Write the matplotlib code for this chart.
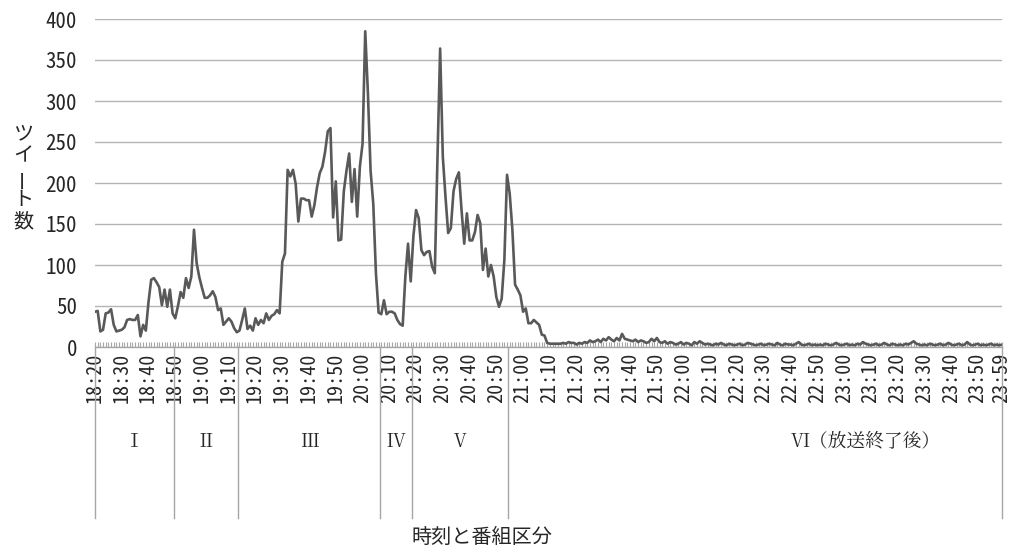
import numpy as np
import matplotlib
matplotlib.use('Agg')
import matplotlib.pyplot as plt
from matplotlib import font_manager
from matplotlib.transforms import blended_transform_factory

plt.rcParams['font.family'] = ['Noto Sans CJK JP', 'DejaVu Sans']

# tweets per minute, 18:20 .. 23:59
tweets_1820 = [43, 44, 19, 21, 41, 42, 46, 27, 19, 20,
               21, 24, 33, 34, 33, 33, 39, 13, 27, 20,
               55, 82, 84, 79, 73, 51, 70, 49, 70, 41]
tweets_1850 = [35, 50, 67, 60, 84, 72, 86, 143, 102, 85,
               72, 60, 60, 63, 68, 61, 45, 47, 27, 31,
               35, 31, 23, 18]
tweets_1914 = [20, 33, 47, 22, 26, 20, 35, 27, 33, 29,
               41, 33, 38, 40, 45, 41, 104, 114, 216, 208,
               216, 199, 153, 181, 181, 179, 179, 159, 173, 195,
               212, 220, 238, 263, 267, 158, 202, 130, 131, 190,
               215, 236, 177, 217, 159, 220, 248, 385, 310, 215,
               175, 90, 42]
tweets_2007 = [40, 57, 40, 43, 43, 41, 33, 28, 26, 86,
               126, 80]
tweets_2019 = [135, 167, 157, 118, 112, 116, 117, 98, 90, 230,
               364, 232, 183, 139, 145, 190, 205, 213, 167, 126,
               163, 130, 130, 140, 161, 151, 94, 120, 86, 100,
               86, 61, 49, 59, 106, 210]
tweets_2055 = [187, 143, 76, 70, 63, 43, 47, 29, 29, 33,
               30, 27, 15, 14, 5, 4, 4, 4, 4, 4,
               5, 4, 6, 5, 5,
               3, 5, 4, 6, 5, 8, 6, 7, 9, 6,
               10, 8, 12, 9, 7, 11, 8, 16, 10, 9,
               8, 7, 9, 6, 8, 7, 5, 6, 10, 7,
               11, 6, 5, 7, 4, 6, 5, 3, 4, 6,
               3, 5, 4, 2, 6, 4, 7, 5, 3, 4,
               3, 2, 4, 3, 5, 3, 2, 4, 3, 2,
               3, 4, 2, 3, 5, 4, 3, 2, 3, 4,
               2, 3, 4, 3, 2, 5, 3, 2, 4, 3,
               3, 2, 4, 6, 3, 2, 3, 4, 2, 3,
               2, 3, 2, 4, 3, 2, 3, 5, 3, 2,
               3, 4, 2, 3, 2, 4, 3, 6, 4, 3,
               2, 3, 4, 2, 3, 5, 3, 2, 4, 3,
               2, 3, 2, 4, 3, 5, 7, 4, 3, 2,
               3, 2, 4, 3, 2, 3, 4, 2, 3, 5,
               3, 2, 3, 4, 2, 3, 6, 3, 2, 3,
               4, 2, 3, 2, 3, 4, 2, 3, 2, 3]
tweets = tweets_1820 + tweets_1850 + tweets_1914 + tweets_2007 + tweets_2019 + tweets_2055

tick_minutes = [0, 10, 20, 30, 40, 50, 60, 70, 80, 90, 100, 110, 120, 130, 140, 150, 160,
                170, 180, 190, 200, 210, 220, 230, 240, 250, 260, 270, 280, 290, 300, 310,
                320, 330, 339]
tick_labels = ['18:20', '18:30', '18:40', '18:50', '19:00', '19:10', '19:20', '19:30',
               '19:40', '19:50', '20:00', '20:10', '20:20', '20:30', '20:40', '20:50',
               '21:00', '21:10', '21:20', '21:30', '21:40', '21:50', '22:00', '22:10',
               '22:20', '22:30', '22:40', '22:50', '23:00', '23:10', '23:20', '23:30',
               '23:40', '23:50', '23:59']

# program sections (minutes per section)
section_names = ['Ⅰ', 'Ⅱ', 'Ⅲ', 'Ⅳ', 'Ⅴ', 'Ⅵ（放送終了後）']
section_minutes = [30, 24, 53, 12, 36, 185]


def pick_font(names, default):
    for n in names:
        try:
            font_manager.findfont(n, fallback_to_default=False)
            return n
        except ValueError:
            pass
    return default


# half-width monospace digits, like the original's gothic font
num_font = pick_font(['Noto Sans Mono CJK JP', 'DejaVu Sans Mono'], 'DejaVu Sans Mono')
num_size = 14.5 if num_font.startswith('Noto') else 12.5
serif_font = pick_font(['Noto Serif CJK JP', 'DejaVu Serif'], 'DejaVu Serif')
text_col = '#262626'

x = np.arange(len(tweets))

fig = plt.figure(figsize=(10.1, 5.55), dpi=100)
ax = fig.add_axes([95 / 1010, 208 / 555, 907 / 1010, 328 / 555])

ax.plot(x, tweets, color='#595959', lw=1.9, solid_joinstyle='round')

ax.set_xlim(0, len(tweets) - 1)
ax.set_ylim(0, 400)
ax.set_yticks(range(0, 401, 50))
ax.grid(axis='y', color='#b4b4b4', lw=1.0)
ax.set_axisbelow(True)

for side in ['left', 'right', 'top']:
    ax.spines[side].set_visible(False)
ax.spines['bottom'].set_color('#a6a6a6')
ax.spines['bottom'].set_linewidth(1.0)

ax.set_xticks(tick_minutes)
ax.set_xticklabels(tick_labels, rotation=90, family=num_font, fontsize=num_size,
                   color=text_col)
ax.set_xticks(x, minor=True)
ax.tick_params(axis='x', which='both', direction='in', length=3.5, width=0.8,
               color='#a6a6a6', pad=4)
ax.tick_params(axis='y', length=0, pad=13)
for lab in ax.get_yticklabels():
    lab.set_family(num_font)
    lab.set_fontsize(num_size + 0.5)
    lab.set_color(text_col)

# section dividers and names below the axis
trans = blended_transform_factory(ax.transData, ax.transAxes)
bounds = np.concatenate([[0], np.cumsum(section_minutes)]) - 0.5
bounds[0] = 0
bounds[-1] = len(tweets) - 1
for b in bounds:
    ax.plot([b, b], [0, -0.52], transform=trans, color='#a6a6a6', lw=1.0, clip_on=False)
for i, name in enumerate(section_names):
    cx = (bounds[i] + bounds[i + 1]) / 2
    if i == len(section_names) - 1:
        cx = 288
    ax.text(cx, -0.29, name, transform=trans, ha='center', va='center', fontsize=13.5,
            color=text_col, family=[serif_font, 'Noto Sans CJK JP'])

fig.text(482 / 1010, 18 / 555, '時刻と番組区分', ha='center', va='center', fontsize=14.5,
         color=text_col)

# vertical y label, one character per row
ylabel_chars = ['ツ', 'イ', 'ー', 'ト', '数']
for k, ch in enumerate(ylabel_chars):
    rot = 90 if ch == 'ー' else 0
    fig.text(23 / 1010, 1 - (134 + 22 * k) / 555, ch, ha='center', va='center',
             fontsize=14.5, rotation=rot, color=text_col)

fig.savefig('out.png', dpi=100)
